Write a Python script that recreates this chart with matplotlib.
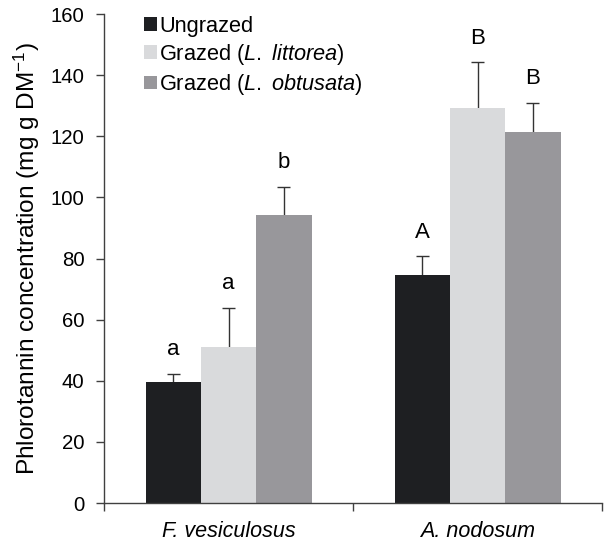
import numpy as np
import matplotlib
matplotlib.use("Agg")
import matplotlib.pyplot as plt
from matplotlib.patches import Patch

plt.rcParams['font.family'] = ['Liberation Sans', 'DejaVu Sans']
plt.rcParams['mathtext.fontset'] = 'custom'
plt.rcParams['mathtext.rm'] = 'Liberation Sans'
plt.rcParams['mathtext.it'] = 'Liberation Sans:italic'

# data
species = ["F. vesiculosus", "A. nodosum"]
treatments = ["Ungrazed", r"Grazed ($\it{L.\ littorea}$)", r"Grazed ($\it{L.\ obtusata}$)"]
means = {
    "ungrazed": [39.5, 74.6],
    "littorea": [51.1, 129.2],
    "obtusata": [94.2, 121.4],
}
errors = {
    "ungrazed": [2.8, 6.3],
    "littorea": [12.8, 15.0],
    "obtusata": [9.3, 9.6],
}
letters = {
    "ungrazed": ["a", "A"],
    "littorea": ["a", "B"],
    "obtusata": ["b", "B"],
}
colors = ["#1e1f22", "#d9dadc", "#98979b"]

fig = plt.figure(figsize=(6.12, 5.41), dpi=100)
ax = fig.add_axes([0.170, 0.070, 0.814, 0.904])

x = np.arange(len(species))
width = 0.222
cap = 0.026  # half cap width, in data units

for i, key in enumerate(["ungrazed", "littorea", "obtusata"]):
    pos = x + (i - 1) * width
    m = np.array(means[key])
    top = m + np.array(errors[key])
    ax.bar(pos, m, width=width, color=colors[i], edgecolor='none', zorder=2)
    # upper error bar only
    ax.vlines(pos, m, top, color='#333333', lw=1.0, zorder=1)
    ax.hlines(top, pos - cap, pos + cap, color='#333333', lw=1.0, zorder=1)
    for p, t, lab in zip(pos, top, letters[key]):
        ax.text(p, t + 6, lab, ha='center', va='baseline', fontsize=16)

ax.set_xlim(-0.5, 1.5)
ax.set_ylim(0, 160)
ax.set_yticks(np.arange(0, 161, 20))
ax.set_xticks([-0.5, 0.5, 1.5])
ax.set_xticklabels([])
ax.set_xticks(x, minor=True)
ax.set_xticklabels(species, minor=True, fontstyle='italic', fontsize=15.5)
ax.tick_params(axis='x', which='minor', length=0, pad=13)
ax.tick_params(axis='both', which='major', direction='out', length=6, width=1.0,
               color='#404040', labelsize=14.7)
ax.tick_params(axis='y', which='major', pad=8)

for s in ['top', 'right']:
    ax.spines[s].set_visible(False)
for s in ['left', 'bottom']:
    ax.spines[s].set_color('#404040')
    ax.spines[s].set_linewidth(1.0)

ax.set_ylabel(r"Phlorotannin concentration (mg g DM$^{-1}$)", fontsize=17.6)
ax.yaxis.set_label_coords(-0.125, 0.5)

handles = [Patch(facecolor=c, edgecolor='none') for c in colors]
leg = ax.legend(handles, treatments, loc='upper left', bbox_to_anchor=(0.062, 1.014),
                frameon=False, fontsize=15.7, handlelength=0.6, handleheight=0.6,
                handletextpad=0.12, labelspacing=0.235, borderaxespad=0)

fig.savefig("out.png", dpi=100)
